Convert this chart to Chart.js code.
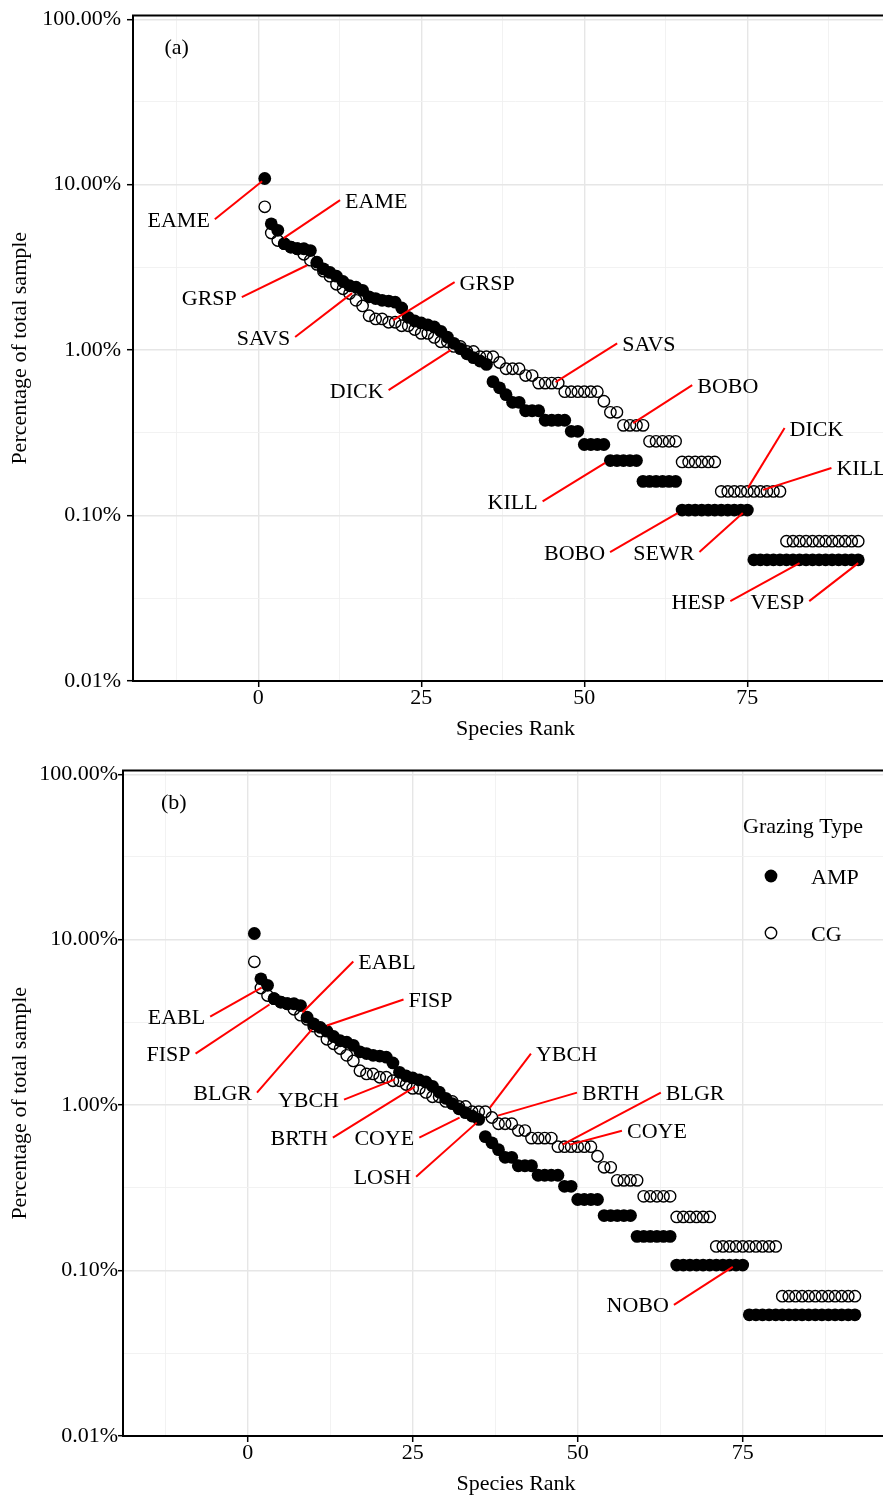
<!DOCTYPE html>
<html>
<head>
<meta charset="utf-8">
<script src="https://cdn.jsdelivr.net/npm/chart.js@4.4.0/dist/chart.umd.min.js"></script>
<style>
  html, body { margin: 0; padding: 0; background: #fff; overflow: hidden; }
  .panel { position: absolute; left: 0; }
  #wrap_a { top: 0; }
  #wrap_b { top: 755px; }
</style>
</head>
<body>
<div class="panel" id="wrap_a"><canvas id="chart_a" width="898" height="740"></canvas></div>
<div class="panel" id="wrap_b"><canvas id="chart_b" width="909" height="740"></canvas></div>
<script>
// species rank (x) and share of total sample in percent (y)
let speciesRank = [1, 2, 3, 4, 5, 6, 7, 8, 9, 10, 11, 12, 13, 14, 15, 16, 17, 18, 19, 20,
    21, 22, 23, 24, 25, 26, 27, 28, 29, 30, 31, 32, 33, 34, 35, 36, 37, 38, 39, 40,
    41, 42, 43, 44, 45, 46, 47, 48, 49, 50, 51, 52, 53, 54, 55, 56, 57, 58, 59, 60,
    61, 62, 63, 64, 65, 66, 67, 68, 69, 70, 71, 72, 73, 74, 75, 76, 77, 78, 79, 80,
    81, 82, 83, 84, 85, 86, 87, 88, 89, 90, 91, 92];

let ampShare = [10.9, 5.8, 5.3, 4.4, 4.2, 4.1, 4.1, 4.0, 3.4, 3.1,
    2.95, 2.8, 2.6, 2.45, 2.4, 2.3, 2.1, 2.05, 2.0, 1.98,
    1.95, 1.8, 1.58, 1.5, 1.46, 1.42, 1.38, 1.3, 1.2, 1.1,
    1.02, 0.95, 0.9, 0.86, 0.82, 0.645, 0.592, 0.538, 0.484, 0.484,
    0.43, 0.43, 0.43, 0.377, 0.377, 0.377, 0.377, 0.323, 0.323, 0.269,
    0.269, 0.269, 0.269, 0.215, 0.215, 0.215, 0.215, 0.215, 0.161, 0.161,
    0.161, 0.161, 0.161, 0.161, 0.108, 0.108, 0.108, 0.108, 0.108, 0.108,
    0.108, 0.108, 0.108, 0.108, 0.108, 0.054, 0.054, 0.054, 0.054, 0.054,
    0.054, 0.054, 0.054, 0.054, 0.054, 0.054, 0.054, 0.054, 0.054, 0.054,
    0.054, 0.054];

let cgShare = [7.35, 5.1, 4.6, 4.4, 4.2, 4.1, 3.8, 3.5, 3.3, 3.0,
    2.8, 2.5, 2.35, 2.2, 2.0, 1.85, 1.614, 1.544, 1.544, 1.474,
    1.474, 1.404, 1.404, 1.333, 1.263, 1.263, 1.193, 1.123, 1.123, 1.053,
    1.053, 0.982, 0.982, 0.912, 0.912, 0.912, 0.842, 0.772, 0.772, 0.772,
    0.702, 0.702, 0.632, 0.632, 0.632, 0.632, 0.561, 0.561, 0.561, 0.561,
    0.561, 0.561, 0.491, 0.421, 0.421, 0.351, 0.351, 0.351, 0.351, 0.281,
    0.281, 0.281, 0.281, 0.281, 0.211, 0.211, 0.211, 0.211, 0.211, 0.211,
    0.14, 0.14, 0.14, 0.14, 0.14, 0.14, 0.14, 0.14, 0.14, 0.14,
    0.07, 0.07, 0.07, 0.07, 0.07, 0.07, 0.07, 0.07, 0.07, 0.07,
    0.07, 0.07];

let seriesNames = ['AMP', 'CG'];
let legendTitle = 'Grazing Type';

let xTickValues = [0, 25, 50, 75];
let xTickLabels = ['0', '25', '50', '75'];
let xMinorValues = [-12.5, 12.5, 37.5, 62.5, 87.5];
let yTickValues = [0.01, 0.1, 1, 10, 100];
let yTickLabels = ['0.01%', '0.10%', '1.00%', '10.00%', '100.00%'];

// species labels: [text, label rank, label %, segment tip rank, segment tip %]
let notesA = [
    ['EAME', -12.2, 6.19, 0.6, 10.5],
    ['EAME', 18.1, 8.06, 3.9, 4.75],
    ['GRSP', -7.5, 2.09, 7.5, 3.26],
    ['SAVS', 0.8, 1.2, 14.4, 2.21],
    ['GRSP', 35.1, 2.58, 20.7, 1.52],
    ['DICK', 15.1, 0.573, 29.5, 1.0],
    ['SAVS', 59.9, 1.1, 45.6, 0.641],
    ['BOBO', 72.0, 0.614, 57.5, 0.362],
    ['DICK', 85.6, 0.338, 75.1, 0.147],
    ['KILL', 92.5, 0.194, 77.4, 0.143],
    ['KILL', 39.0, 0.122, 53.2, 0.208],
    ['BOBO', 48.5, 0.0602, 64.3, 0.1035],
    ['SEWR', 62.2, 0.0602, 74.3, 0.1035],
    ['HESP', 67.5, 0.0304, 83.0, 0.0516],
    ['VESP', 79.6, 0.0304, 92.0, 0.0516]
];
let notesB = [
    ['EABL', -10.8, 3.43, 2.1, 5.14],
    ['FISP', -12.0, 2.05, 3.3, 4.06],
    ['EABL', 21.1, 7.39, 8.3, 3.63],
    ['FISP', 27.7, 4.35, 12.0, 3.03],
    ['BLGR', -3.8, 1.19, 9.7, 2.86],
    ['YBCH', 9.2, 1.08, 22.3, 1.43],
    ['BRTH', 7.8, 0.636, 25.3, 1.29],
    ['COYE', 20.7, 0.636, 32.1, 0.84],
    ['LOSH', 20.4, 0.369, 34.7, 0.784],
    ['YBCH', 48.3, 2.05, 36.7, 0.966],
    ['BRTH', 55.0, 1.19, 37.9, 0.864],
    ['BLGR', 67.8, 1.19, 47.7, 0.577],
    ['COYE', 62.0, 0.701, 48.8, 0.577],
    ['NOBO', 59.1, 0.062, 73.5, 0.1054]
];

const FONT = { family: '"Liberation Serif", "Times New Roman", serif', size: 22, lineHeight: 1 };
const FONT_CSS = '22px "Liberation Serif", "Times New Roman", serif';

function isMajorLog(v) {
    let l = Math.log10(v);
    return Math.abs(l - Math.round(l)) < 1e-6;
}

let yTickAll = [];
yTickValues.forEach((v, i) => {
    yTickAll.push(v);
    if (i < yTickValues.length - 1) yTickAll.push(Math.sqrt(v * yTickValues[i + 1]));
});
let xTickAll = xTickValues.concat(xMinorValues).sort((a, b) => a - b);

function toPoints(values) {
    return values.map((v, i) => ({ x: speciesRank[i], y: v }));
}

const decor = {
    id: 'decor',
    afterDatasetsDraw(chart, args, o) {
        const { ctx, chartArea: a } = chart;
        const xs = chart.scales.x, ys = chart.scales.y;
        ctx.save();
        ctx.strokeStyle = '#000';
        ctx.lineWidth = 2;
        ctx.strokeRect(a.left, a.top, a.right - a.left, a.bottom - a.top);

        ctx.font = FONT_CSS;
        ctx.fillStyle = '#000';
        ctx.textAlign = 'center';
        ctx.textBaseline = 'alphabetic';
        ctx.fillText(o.tag, xs.getPixelForValue(o.tagAt[0]), ys.getPixelForValue(o.tagAt[1]) + 7);

        o.notes.forEach(n => {
            let lx = xs.getPixelForValue(n[1]), ly = ys.getPixelForValue(n[2]);
            let px = xs.getPixelForValue(n[3]), py = ys.getPixelForValue(n[4]);
            let hw = ctx.measureText(n[0]).width / 2 + 5;
            let sx, sy;
            if (Math.abs(px - lx) > hw) {
                sx = lx + Math.sign(px - lx) * hw;
                sy = ly;
            } else {
                sx = lx;
                sy = ly + Math.sign(py - ly) * 13;
            }
            ctx.strokeStyle = '#ff0000';
            ctx.lineWidth = 2;
            ctx.beginPath();
            ctx.moveTo(sx, sy);
            ctx.lineTo(px, py);
            ctx.stroke();
            ctx.fillText(n[0], lx, ly + 7.5);
        });

        if (o.legend) {
            const L = o.legend;
            ctx.textAlign = 'left';
            ctx.fillText(legendTitle, L.x, L.titleY + 7.5);
            chart.data.datasets.forEach((ds, i) => {
                let y = L.rowY[i];
                ctx.beginPath();
                ctx.arc(L.markerX, y, ds.pointRadius, 0, Math.PI * 2);
                if (ds.borderWidth > 0) {
                    ctx.lineWidth = ds.borderWidth;
                    ctx.strokeStyle = ds.borderColor;
                    ctx.stroke();
                } else {
                    ctx.fillStyle = ds.backgroundColor;
                    ctx.fill();
                }
                ctx.fillStyle = '#000';
                ctx.fillText(ds.label, L.textX, y + 7.5);
            });
        }
        ctx.restore();
    }
};

function makePanel(id, p) {
    return new Chart(document.getElementById(id), {
        type: 'scatter',
        data: {
            datasets: [{
                label: seriesNames[0],
                data: toPoints(ampShare),
                pointRadius: 6.4,
                pointHoverRadius: 6.4,
                backgroundColor: '#000',
                borderWidth: 0
            }, {
                label: seriesNames[1],
                data: toPoints(cgShare),
                pointRadius: 5.7,
                pointHoverRadius: 5.7,
                backgroundColor: 'rgba(0,0,0,0)',
                borderColor: '#000',
                borderWidth: 1.4
            }]
        },
        options: {
            responsive: false,
            maintainAspectRatio: false,
            animation: false,
            layout: { autoPadding: false, padding: { top: 15.5, right: 0, bottom: 0, left: 0 } },
            plugins: {
                legend: { display: false },
                tooltip: { enabled: false },
                decor: { tag: p.tag, tagAt: p.tagAt, notes: p.notes, legend: p.legend }
            },
            scales: {
                x: {
                    type: 'linear',
                    min: p.xMin,
                    max: p.xMax,
                    afterBuildTicks: s => { s.ticks = xTickAll.map(v => ({ value: v })); },
                    afterFit: s => { s.height = 59; s.paddingLeft = 0; s.paddingRight = 0; },
                    ticks: {
                        autoSkip: false,
                        maxRotation: 0,
                        padding: 0,
                        font: FONT,
                        color: '#000',
                        callback: v => {
                            let k = xTickValues.indexOf(v);
                            return k >= 0 ? xTickLabels[k] : '';
                        }
                    },
                    grid: {
                        color: c => (xTickValues.includes(c.tick.value) ? '#e6e6e6' : '#f1f1f1'),
                        lineWidth: c => (xTickValues.includes(c.tick.value) ? 1.4 : 0.9),
                        tickLength: 6,
                        tickWidth: 1.5,
                        tickColor: c => (xTickValues.includes(c.tick.value) ? '#000' : 'rgba(0,0,0,0)')
                    },
                    border: { display: false },
                    title: { display: true, text: 'Species Rank', font: FONT, color: '#000', padding: { top: 0, bottom: 0 } }
                },
                y: {
                    type: 'logarithmic',
                    min: 0.01,
                    max: 105.4,
                    afterBuildTicks: s => { s.ticks = yTickAll.map(v => ({ value: v })); },
                    afterFit: s => { s.width = p.axisWidth; s.paddingTop = 0; s.paddingBottom = 0; },
                    ticks: {
                        autoSkip: false,
                        padding: p.tickPad,
                        font: FONT,
                        color: '#000',
                        callback: v => {
                            let k = yTickValues.indexOf(v);
                            return k >= 0 ? yTickLabels[k] : '';
                        }
                    },
                    grid: {
                        color: c => (isMajorLog(c.tick.value) ? '#e6e6e6' : '#f1f1f1'),
                        lineWidth: c => (isMajorLog(c.tick.value) ? 1.4 : 0.9),
                        tickLength: p.tickLen,
                        tickWidth: 1.5,
                        tickColor: c => (isMajorLog(c.tick.value) ? '#000' : 'rgba(0,0,0,0)')
                    },
                    border: { display: false },
                    title: { display: true, text: 'Percentage of total sample', font: FONT, color: '#000', padding: { top: 9, bottom: 0 } }
                }
            }
        },
        plugins: [decor]
    });
}

let chart_a = makePanel('chart_a', {
    xMin: -19.2, xMax: 98.1, axisWidth: 133, tickPad: 6, tickLen: 6,
    tag: '(a)', tagAt: [-12.5, 67.7], notes: notesA, legend: null
});

let chart_b = makePanel('chart_b', {
    xMin: -18.9, xMax: 100.2, axisWidth: 123, tickPad: 0, tickLen: 5,
    tag: '(b)', tagAt: [-11.2, 67.7], notes: notesB,
    legend: { x: 743, titleY: 70, markerX: 771, textX: 811, rowY: [121, 178] }
});
</script>
</body>
</html>
